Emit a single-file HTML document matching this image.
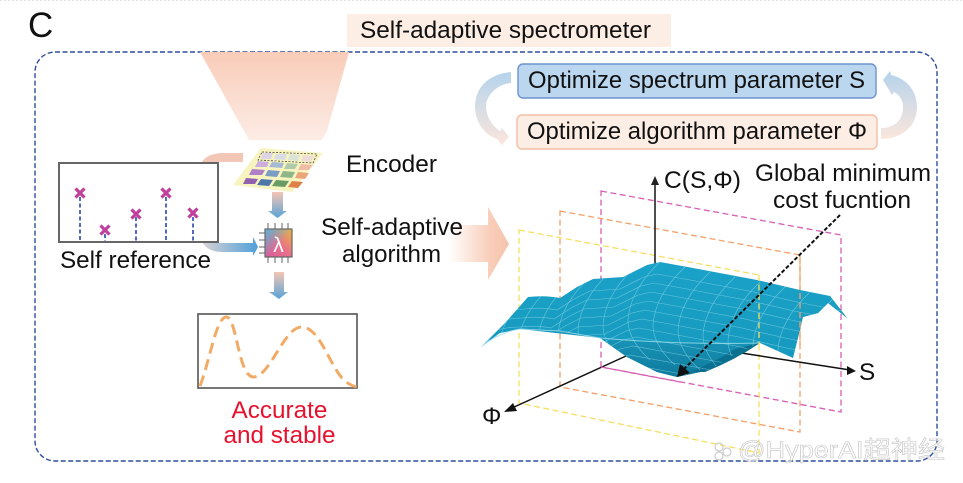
<!DOCTYPE html>
<html><head><meta charset="utf-8"><style>html,body{margin:0;padding:0;background:#fff}svg{display:block}text{font-family:"Liberation Sans","Noto Sans CJK SC",sans-serif;fill:#111}</style></head><body>
<svg width="963" height="483" viewBox="0 0 963 483" xmlns="http://www.w3.org/2000/svg">
<defs>
<linearGradient id="tr" x1="0" y1="0" x2="0" y2="1"><stop offset="0" stop-color="#f9ccb8"/><stop offset="1" stop-color="#fcece5"/></linearGradient>
<linearGradient id="big" x1="0" y1="0" x2="1" y2="0"><stop offset="0" stop-color="#fff"/><stop offset=".7" stop-color="#f8cdb9"/><stop offset="1" stop-color="#f6c3ab"/></linearGradient>
<linearGradient id="dn" x1="0" y1="0" x2="0" y2="1"><stop offset="0" stop-color="#f4c6b3"/><stop offset="1" stop-color="#5aa3d8"/></linearGradient>
<linearGradient id="rt" x1="0" y1="0" x2="1" y2="0"><stop offset="0" stop-color="#d9d3d6"/><stop offset="1" stop-color="#4f9fd8"/></linearGradient>
<linearGradient id="lc" x1="0" y1="0" x2="0" y2="1"><stop offset="0" stop-color="#b5d3ec"/><stop offset="1" stop-color="#fbe6dc"/></linearGradient>
<linearGradient id="chip" x1="0" y1="1" x2="1" y2="0"><stop offset="0" stop-color="#d95a9c"/><stop offset=".5" stop-color="#e8708a"/><stop offset="1" stop-color="#e8b83c"/></linearGradient>
<linearGradient id="chip2" x1="0" y1="0" x2="1" y2="1"><stop offset="0" stop-color="#4fb8d8" stop-opacity=".95"/><stop offset=".55" stop-color="#4fb8d8" stop-opacity="0"/></linearGradient>
<linearGradient id="surf" x1="0" y1="0" x2="0" y2="1"><stop offset="0" stop-color="#1ba2c8"/><stop offset="1" stop-color="#1597bd"/></linearGradient>
<linearGradient id="bowl" x1="0" y1="0" x2="0" y2="1"><stop offset="0" stop-color="#1a9abf"/><stop offset="1" stop-color="#0f7a9c"/></linearGradient>
<clipPath id="sc"><path id="sp" d="M482 346 L505 323 L528 297 Q545 295 560 298 L577 287 L593 279 L623 277 L647 265 L660 262 L693 268 L757 280 L800 290 L830 296 L847 318 L828 303 L818 313 L803 317 L800 330 L793 358 L760 343 L733 355 L710 370 L677 377 L657 372 L627 357 L600 338 L560 331 L520 329 L500 333 Z"/></clipPath>
<path id="f1" d="M470 320 Q500 300 528 300 Q545 298 560 301 L577 290 L593 282 L623 280 L647 268 L660 265 L693 271 L757 283 L800 293 L860 305" fill="none"/>
<path id="f2" d="M660 262 Q630 290 628 320 Q628 340 650 360" fill="none"/>
</defs>

<line x1="0" y1="0.5" x2="963" y2="0.5" stroke="#e4e4e4" stroke-dasharray="2 2"/>
<rect x="347" y="14" width="324" height="33" fill="#fdeee5"/>
<rect x="35" y="52" width="902" height="409" rx="20" fill="none" stroke="#2d4e9e" stroke-width="1.4" stroke-dasharray="5 2.5"/>
<polygon points="200,52 349,52 327,131 322,140 249,140" fill="url(#tr)"/>

<text x="28" y="37" font-size="35">C</text>
<text x="360" y="38" font-size="24.300" textLength="291" lengthAdjust="spacingAndGlyphs">Self-adaptive spectrometer</text>

<!-- Optimise loop -->
<path d="M511 72 C488 74 475 88 475 107 C475 122 485 135 497 139 L502 145 L509 137 L502 128 L500 131 C492 126 486 116 486 106 C486 96 497 84 511 83 Z" fill="url(#lc)"/>
<path d="M881 128 C895 128 903 120 903 107 C903 99 899 95 894 92 L892 95 L883 80 L890 71 L891 75 C908 79 917 92 917 107 C917 126 902 139 881 139Z" fill="url(#lc)"/>
<rect x="518" y="64" width="358" height="34" rx="5" fill="#bbd6ef" stroke="#6d94cf" stroke-width="1.4"/>
<rect x="517" y="115" width="360" height="34" rx="5" fill="#fdeee5" stroke="#f5bda5" stroke-width="1.4"/>
<text x="528" y="88" font-size="24.300" textLength="337" lengthAdjust="spacingAndGlyphs">Optimize spectrum parameter S</text>
<text x="527" y="139" font-size="24.300" textLength="340" lengthAdjust="spacingAndGlyphs">Optimize algorithm parameter Φ</text>

<!-- self reference -->
<path d="M201 163 Q207 153 224 153 L243 153 L243 162 L224 162 Z" fill="#f3c7b6"/>
<path d="M202 242 Q208 243 222 243 L253 243 L253 237 L258 247 L253 256 L253 252 L222 252 Q208 252 202 242 Z" fill="url(#rt)"/>
<rect x="59" y="163" width="159" height="79" fill="#fff" stroke="#666" stroke-width="2"/>
<g stroke="#3450b0" stroke-width="1.7" stroke-dasharray="4 2.5">
<line x1="80" y1="197" x2="80" y2="241"/><line x1="105" y1="234" x2="105" y2="241"/><line x1="136" y1="217" x2="136" y2="241"/><line x1="166" y1="197" x2="166" y2="241"/><line x1="193" y1="217" x2="193" y2="241"/>
</g>
<g stroke="#c0409c" stroke-width="3.2" fill="none">
<path d="M75.500 188.500l9 9m0-9l-9 9"/><path d="M100.500 225.500l9 9m0-9l-9 9"/><path d="M131.500 209.500l9 9m0-9l-9 9"/><path d="M161.500 188.500l9 9m0-9l-9 9"/><path d="M188.500 208.500l9 9m0-9l-9 9"/>
</g>
<text x="60" y="268" font-size="24.300" textLength="151" lengthAdjust="spacingAndGlyphs">Self reference</text>

<!-- encoder -->
<polygon points="261,148 323,153 292,192 233,185" fill="#f8f4c0"/>
<g>
<polygon points="262,152 317,154 313,163 258,160" fill="none" stroke="#444" stroke-width=".8" stroke-dasharray="2 1.5"/>
<polygon points="263,153 273,153 271,159 261,159" fill="#dcd3e6"/><polygon points="276,154 287,154 285,160 274,159" fill="#d8dce6"/><polygon points="290,154 300,155 298,161 288,160" fill="#dbe2d8"/><polygon points="303,155 314,156 311,162 301,161" fill="#f0dcd6"/>
<polygon points="258,161 269,162 267,167 255,167" fill="#cbaedb"/><polygon points="272,162 284,163 282,168 269,167" fill="#a6b9d2"/><polygon points="287,163 298,164 295,169 284,169" fill="#b0cbab"/><polygon points="301,164 313,165 309,170 298,170" fill="#efbda6"/>
<polygon points="252,169 265,170 262,175 249,175" fill="#b07fc8"/><polygon points="268,170 280,171 277,177 265,176" fill="#7c9cc2"/><polygon points="283,171 295,172 292,178 280,177" fill="#8fb689"/><polygon points="298,172 309,173 305,179 295,178" fill="#eba57a"/>
<polygon points="246,178 258,179 255,184 243,184" fill="#9260b0"/><polygon points="261,179 273,180 269,186 257,185" fill="#4d78a8"/><polygon points="276,180 289,181 285,187 272,186" fill="#6a9c66"/><polygon points="292,181 303,182 298,188 288,187" fill="#de804a"/>
</g>
<text x="346" y="172" font-size="24.300" textLength="91" lengthAdjust="spacingAndGlyphs">Encoder</text>

<polygon points="272,192 283,192 283,211 287,211 277.500,218 268,211 272,211" fill="url(#dn)"/>
<polygon points="274,272 284,272 284,292 288,292 279,299 269,292 274,292" fill="url(#dn)"/>

<!-- chip -->
<g stroke="#666" stroke-width="1">
<path d="M268 223v6M275 223v6M282 223v6M288 223v6M268 257v6M275 257v6M282 257v6M288 257v6M259 233h6M259 240h6M259 247h6M259 253h6"/>
</g>
<rect x="265" y="229" width="27" height="28" fill="url(#chip)" stroke="#666" stroke-width="1.2"/>
<rect x="265.600" y="229.600" width="26" height="27" fill="url(#chip2)"/>
<text x="278.500" y="252" font-size="21" text-anchor="middle" style="fill:#fff;font-family:'Liberation Sans',sans-serif">λ</text>

<!-- big arrow -->
<polygon points="448,225 488,225 488,207 509,244 488,280 488,262 448,262" fill="url(#big)"/>
<text x="321" y="235" font-size="24.300" textLength="142" lengthAdjust="spacingAndGlyphs">Self-adaptive</text>
<text x="342" y="262" font-size="24.300" textLength="99" lengthAdjust="spacingAndGlyphs">algorithm</text>

<!-- bottom chart -->
<rect x="198" y="314" width="159" height="74" fill="#fff" stroke="#555" stroke-width="1.6"/>
<path d="M200 386 C210 360 216 318 226 317 C237 316 238 378 254 377 C270 376 284 328 301 327 C320 326 330 368 345 381 Q351 386 357 387" fill="none" stroke="#f2ab66" stroke-width="3" stroke-dasharray="11 6"/>
<text x="279.500" y="418" font-size="24.300" text-anchor="middle" style="fill:#e8112d">Accurate</text>
<text x="279.500" y="443" font-size="24.300" text-anchor="middle" style="fill:#e8112d">and stable</text>

<!-- frames back -->
<g fill="none" stroke-width="1.3" stroke-dasharray="6 3.5">
<polygon points="601,191 841,235 841,412 601,367" stroke="#d85fb4"/>
<polygon points="560,211 800,255 800,432 560,387" stroke="#f5a06a"/>
<polygon points="519,230 759,275 759,453 519,403" stroke="#f6de60"/>
</g>
<!-- axes back -->
<line x1="655" y1="265" x2="655" y2="182" stroke="#222" stroke-width="1.6"/><polygon points="655,176 651,185 659,185" fill="#222"/>
<line x1="735" y1="352" x2="850" y2="370" stroke="#111" stroke-width="1.5"/><polygon points="856,371 847,366 847,375" fill="#111"/>
<line x1="626" y1="356" x2="512" y2="408" stroke="#111" stroke-width="1.5"/><polygon points="504,412 513,403 517,411" fill="#111"/>

<!-- surface -->
<path d="M803 317 L818 313 L828 303 L847 318 L830 296 L800 310 Z" fill="#0c5e79"/>
<use href="#sp" fill="url(#surf)"/>
<path d="M520 329 L560 331 L600 338 Q680 345 760 343 L733 355 L710 370 L677 377 L657 372 L627 357 L600 338 Z" fill="url(#bowl)"/>
<path d="M705 372 Q735 360 760 343 L735 349 Q715 362 690 372Z" fill="#0b6f8f"/>
<g clip-path="url(#sc)" fill="none" stroke="#7fd0e4" stroke-width=".6" opacity=".8">
<use href="#f1" transform="translate(-3 9)"/><use href="#f1" transform="translate(-6 18)"/><use href="#f1" transform="translate(-9 27)"/><use href="#f1" transform="translate(-12 36)"/><use href="#f1" transform="translate(-15 45)"/><use href="#f1" transform="translate(-18 54)"/><use href="#f1" transform="translate(-21 63)"/><use href="#f1" transform="translate(-24 72)"/><use href="#f1" transform="translate(-27 81)"/><use href="#f1" transform="translate(-30 90)"/><use href="#f1" transform="translate(-33 99)"/>
<use href="#f2" transform="translate(-150 35)"/><use href="#f2" transform="translate(-130 30)"/><use href="#f2" transform="translate(-110 25)"/><use href="#f2" transform="translate(-90 20)"/><use href="#f2" transform="translate(-70 15)"/><use href="#f2" transform="translate(-50 10)"/><use href="#f2" transform="translate(-25 5)"/><use href="#f2"/><use href="#f2" transform="translate(25 5)"/><use href="#f2" transform="translate(50 10)"/><use href="#f2" transform="translate(75 15)"/><use href="#f2" transform="translate(100 20)"/><use href="#f2" transform="translate(125 25)"/><use href="#f2" transform="translate(150 30)"/><use href="#f2" transform="translate(175 35)"/>
</g>
<path d="M482 346 Q500 332 520 329 L560 331 L600 338 Q680 345 760 343" fill="none" stroke="#9fe0ee" stroke-width="1.1" opacity=".8"/>

<!-- front pieces -->
<g fill="none" stroke-width="1.3" stroke-dasharray="6 3.5">
<line x1="800" y1="255" x2="800" y2="345" stroke="#f5a06a"/>
<line x1="759" y1="275" x2="759" y2="345" stroke="#f6de60"/>
<line x1="601" y1="367" x2="680" y2="382" stroke="#d85fb4"/>
</g>
<line x1="840" y1="215" x2="684" y2="369" stroke="#111" stroke-width="2" stroke-dasharray="4 2"/>
<polygon points="677,377 680,364 690,373" fill="#111"/>

<text x="664" y="188" font-size="24.300" textLength="77" lengthAdjust="spacingAndGlyphs">C(S,Φ)</text>
<text x="755" y="181" font-size="24.300" textLength="176" lengthAdjust="spacingAndGlyphs">Global minimum</text>
<text x="773" y="208" font-size="24.300" textLength="138" lengthAdjust="spacingAndGlyphs">cost fucntion</text>
<text x="859" y="380" font-size="24.300">S</text>
<text x="482" y="424" font-size="24.300">Φ</text>

<text x="738" y="458" font-size="24" textLength="207" lengthAdjust="spacingAndGlyphs" style="fill:rgba(255,255,255,.55);stroke:#c4c4c4;stroke-width:.6">@HyperAI超神经</text>
<g fill="none" stroke="#cccccc" stroke-width="1.2"><circle cx="719" cy="447" r="4"/><circle cx="727" cy="452" r="4"/><circle cx="719" cy="456" r="4"/></g>
</svg>
</body></html>
